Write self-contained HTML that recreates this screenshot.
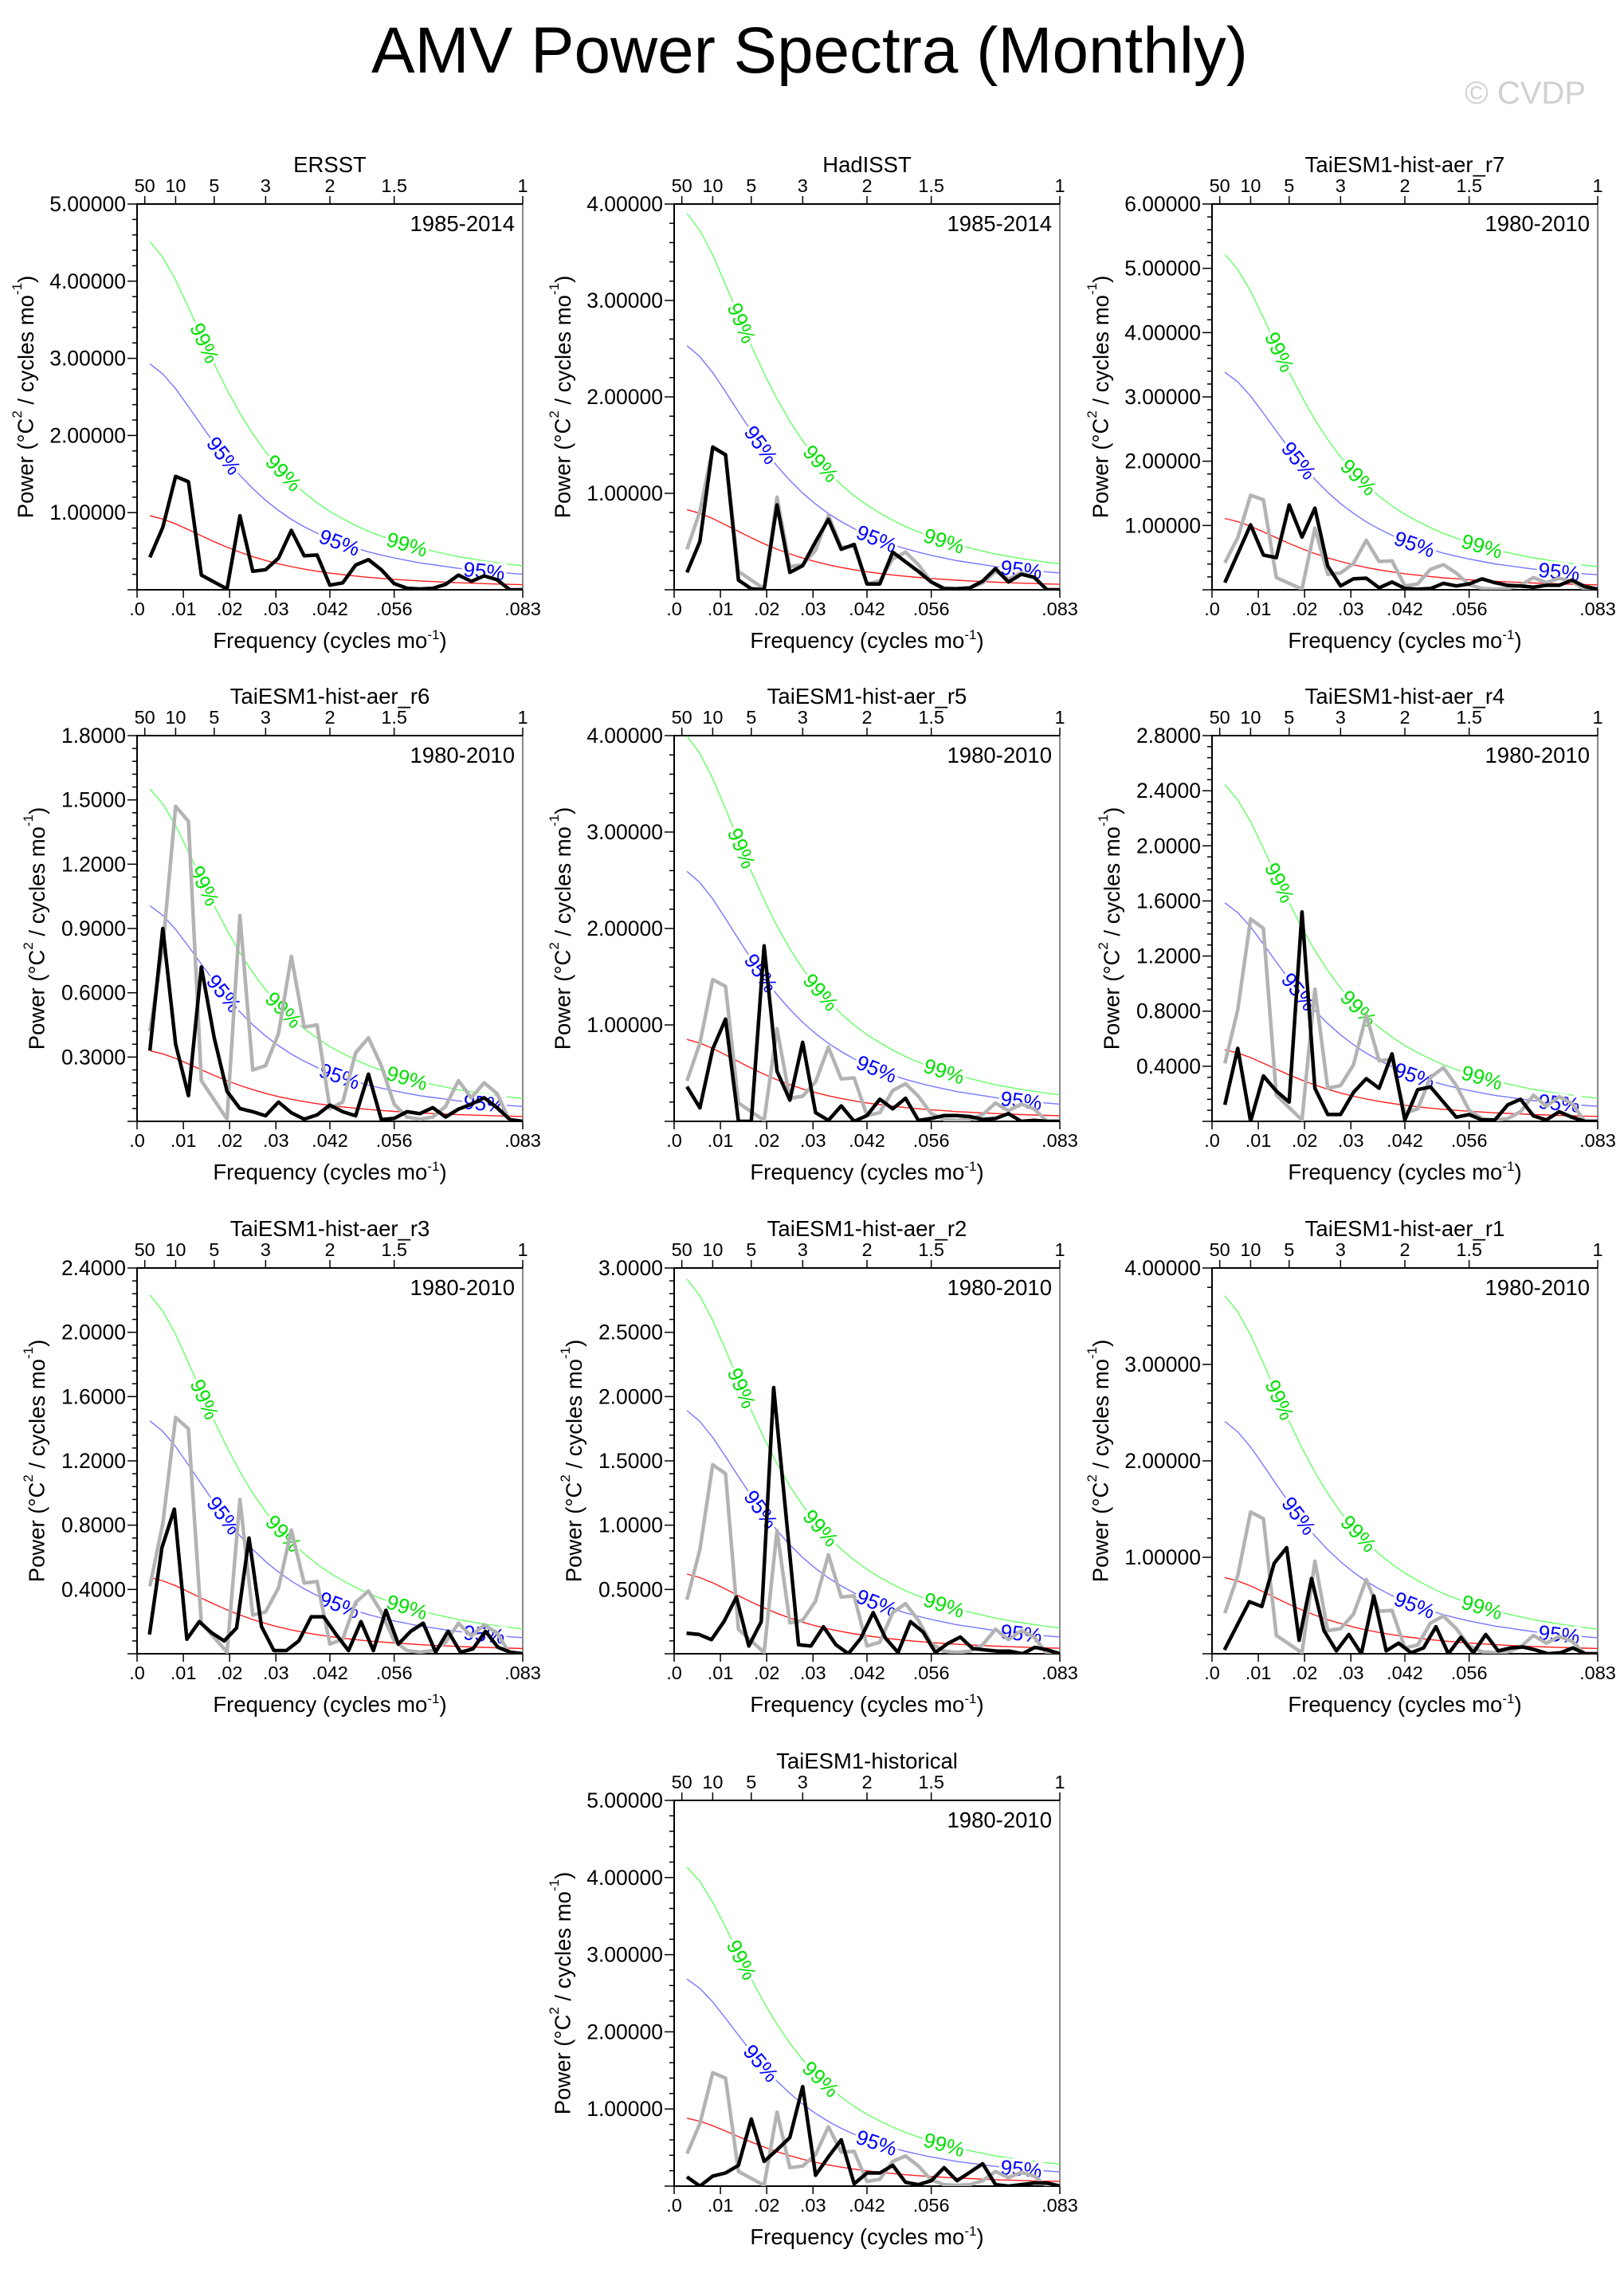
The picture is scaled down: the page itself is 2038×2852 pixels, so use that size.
<!DOCTYPE html>
<html><head><meta charset="utf-8">
<style>
html,body{margin:0;padding:0;background:#fff;}
svg{display:block;font-family:"Liberation Sans",Arial,sans-serif;}
</style></head>
<body>
<svg id="fig" xmlns="http://www.w3.org/2000/svg" width="2038" height="2852" viewBox="0 0 2038 2852">
<rect x="0" y="0" width="2038" height="2852" fill="#fff"/>
<text x="1016" y="91" font-size="82" text-anchor="middle" textLength="1100" lengthAdjust="spacingAndGlyphs">AMV Power Spectra (Monthly)</text>
<text x="1990" y="130" font-size="40" text-anchor="end" fill="#d0d0d0">© CVDP</text>
</svg>
<script>
// ---- data (power, °C^2 / cycles mo^-1) ----
const ersst   = [0.42,0.81,1.47,1.40,0.19,0.10,0.01,0.96,0.24,0.26,0.41,0.77,0.44,0.45,0.06,0.09,0.32,0.39,0.26,0.08,0.02,0.01,0.02,0.07,0.19,0.11,0.18,0.13,0.0,0.0];
const hadisst = [0.18,0.50,1.48,1.40,0.10,0.01,0.0,0.88,0.18,0.25,0.50,0.73,0.42,0.47,0.06,0.06,0.39,0.29,0.19,0.08,0.01,0.01,0.02,0.09,0.22,0.08,0.16,0.13,0.0,0.0];
const r7   = [0.11,0.56,1.01,0.54,0.50,1.32,0.82,1.27,0.37,0.06,0.17,0.18,0.03,0.12,0.02,0.01,0.02,0.10,0.06,0.09,0.17,0.11,0.07,0.06,0.04,0.07,0.07,0.15,0.05,0.01];
const r6   = [0.33,0.90,0.36,0.12,0.72,0.39,0.14,0.06,0.045,0.026,0.09,0.04,0.01,0.03,0.076,0.045,0.026,0.22,0.008,0.014,0.045,0.036,0.064,0.02,0.057,0.08,0.11,0.064,0.008,0.0];
const r5   = [0.36,0.14,0.75,1.06,0.0,0.0,1.82,0.52,0.22,0.82,0.09,0.01,0.16,0.0,0.06,0.23,0.13,0.24,0.01,0.03,0.06,0.06,0.05,0.02,0.03,0.08,0.0,0.01,0.0,0.0];
const r4   = [0.12,0.53,0.0,0.33,0.22,0.14,1.52,0.24,0.05,0.05,0.21,0.31,0.24,0.49,0.01,0.23,0.25,0.14,0.03,0.05,0.01,0.01,0.12,0.16,0.04,0.01,0.07,0.03,0.0,0.0];
const r3   = [0.12,0.66,0.90,0.09,0.20,0.13,0.08,0.16,0.72,0.17,0.02,0.02,0.08,0.23,0.23,0.12,0.02,0.20,0.02,0.27,0.06,0.14,0.19,0.01,0.14,0.01,0.03,0.14,0.04,0.01,0.0];
const r2   = [0.16,0.15,0.11,0.25,0.44,0.06,0.25,2.07,1.07,0.07,0.06,0.21,0.07,0.0,0.12,0.32,0.12,0.01,0.25,0.17,0.01,0.08,0.13,0.04,0.03,0.02,0.02,0.0,0.05,0.03,0.0];
const r1   = [0.04,0.29,0.54,0.49,0.94,1.10,0.14,0.78,0.24,0.03,0.20,0.0,0.60,0.03,0.11,0.01,0.06,0.28,0.0,0.17,0.01,0.20,0.03,0.06,0.07,0.04,0.0,0.01,0.06,0.0,0.0];
const hist = [0.12,0.0,0.13,0.17,0.27,0.87,0.32,0.47,0.63,1.29,0.14,0.38,0.60,0.03,0.17,0.17,0.27,0.05,0.02,0.07,0.24,0.07,0.18,0.29,0.02,0.0,0.02,0.04,0.04,0.0];
// normalized red-noise spectrum shape (30 harmonics)
const redShape = [1,0.955,0.890,0.811,0.729,0.649,0.575,0.507,0.448,0.396,0.351,0.312,0.279,0.250,0.225,0.204,0.185,0.168,0.154,0.141,0.130,0.119,0.111,0.103,0.095,0.089,0.083,0.078,0.073,0.069];
// red-noise level at lowest frequency, per panel
const redLevel = [0.96,0.83,1.11,0.33,0.85,0.52,0.475,0.62,0.79,0.88];
const sig95 = 3.05, sig99 = 4.7;
const panelNames = ["ERSST","HadISST","TaiESM1-hist-aer_r7","TaiESM1-hist-aer_r6","TaiESM1-hist-aer_r5","TaiESM1-hist-aer_r4","TaiESM1-hist-aer_r3","TaiESM1-hist-aer_r2","TaiESM1-hist-aer_r1","TaiESM1-historical"];
const panelYears = ["1985-2014","1985-2014","1980-2010","1980-2010","1980-2010","1980-2010","1980-2010","1980-2010","1980-2010","1980-2010"];
const yMax  = [5,4,6,1.8,4,2.8,2.4,3.0,4,5];
const yStep = [1,1,1,0.3,1,0.4,0.4,0.5,1,1];
const yDec  = [5,5,5,4,5,4,4,4,5,5];
const yMinorPer = [5,5,5,5,5,5,5,5,5,5];
const panelSeries = [ersst,hadisst,r7,r6,r5,r4,r3,r2,r1,hist];
const bottomTicks = [0,0.01,0.02,0.03,1/24,1/18,1/12];
const bottomLabels = [".0",".01",".02",".03",".042",".056",".083"];
const topPeriods = [50,10,5,3,2,1.5,1];
const topLabels = ["50","10","5","3","2","1.5","1"];
const g99Fracs = [0.175,0.38,0.70];
const b95Fracs = [0.225,0.525,0.90];

const NS="http://www.w3.org/2000/svg";
const svg=document.getElementById('fig');
const colL=[172,846,1521], rowT=[256,923,1591,2259], BOX=484, FMAX=1/12;
const cells=[[0,0],[1,0],[2,0],[0,1],[1,1],[2,1],[0,2],[1,2],[2,2],[1,3]];
function mk(tag,attrs,parent){const e=document.createElementNS(NS,tag);for(const k in attrs)e.setAttribute(k,attrs[k]);(parent||svg).appendChild(e);return e;}

cells.forEach((c,p)=>{
  const L=colL[c[0]], T=rowT[c[1]], B=T+BOX, R=L+BOX;
  const xs=f=>L+f/FMAX*BOX;
  const ys=v=>B-v/yMax[p]*BOX;
  const g=mk('g',{});
  
  
  const cp=mk('clipPath',{id:'clip'+p},g);
  mk('rect',{x:L,y:T,width:BOX,height:BOX},cp);
  const tt=mk('text',{x:(L+R)/2,y:T-40,'font-size':27.5,'text-anchor':'middle'},g);
  tt.textContent=panelNames[p];
  
  
  const yr=mk('text',{x:R-10,y:T+34,'font-size':27.5,'text-anchor':'end'},g);
  yr.textContent=panelYears[p];
  
  
  mk('line',{x1:R,y1:T,x2:R,y2:B,stroke:'#888','stroke-width':2},g);
  const fr=mk('path',{d:`M${R},${T}H${L}V${B}H${R}`,fill:'none',stroke:'#000','stroke-width':2},g);
  
  
  const nMaj=Math.round(yMax[p]/yStep[p]);
  const mstep=yStep[p]/yMinorPer[p];
  for(let i=0;i<=nMaj*yMinorPer[p];i++){
    const v=i*mstep, yy=ys(v), major=(i%yMinorPer[p]===0);
    mk('line',{x1:L-(major?12:6),y1:yy,x2:L,y2:yy,stroke:'#000','stroke-width':1.5},g);
  }
  const lblW = yDec[p]===5?95:81;
  for(let i=1;i<=nMaj;i++){
    const v=i*yStep[p];
    const t=mk('text',{x:L-14,y:ys(v)+9,'font-size':26.5,'text-anchor':'end'},g);
    t.textContent=v.toFixed(yDec[p]);
    
    
  }
  const yc=(T+B)/2, yx=L-45-lblW;
  const yt=mk('text',{x:yx,y:yc,'font-size':27.5,'text-anchor':'middle','dominant-baseline':'central',transform:`rotate(-90 ${yx} ${yc})`},g);
  yt.innerHTML='Power (°C<tspan font-size="17" dy="-11">2</tspan><tspan dy="11"> / cycles mo</tspan><tspan font-size="17" dy="-11">-1</tspan><tspan dy="11">)</tspan>';
  
  
  bottomTicks.forEach((f,i)=>{
    const xx=xs(f);
    mk('line',{x1:xx,y1:B,x2:xx,y2:B+10,stroke:'#000','stroke-width':1.5},g);
    const t=mk('text',{x:xx,y:B+32,'font-size':23.5,'text-anchor':'middle'},g);
    t.textContent=bottomLabels[i];
    
    
  });
  const xt=mk('text',{x:(L+R)/2,y:B+73,'font-size':27.5,'text-anchor':'middle'},g);
  xt.innerHTML='Frequency (cycles mo<tspan font-size="17" dy="-11">-1</tspan><tspan dy="11">)</tspan>';
  
  
  topPeriods.forEach((P,i)=>{
    const xx=xs(1/(12*P));
    mk('line',{x1:xx,y1:T-10,x2:xx,y2:T,stroke:'#000','stroke-width':1.5},g);
    const t=mk('text',{x:xx,y:T-15,'font-size':23.5,'text-anchor':'middle'},g);
    t.textContent=topLabels[i];
    
    
  });
  const pg=mk('g',{'clip-path':`url(#clip${p})`},g);
  const nR=redShape.length;
  function curvePts(mult){return redShape.map((s,k)=>[xs((k+1)/(12*nR)),ys(s*redLevel[p]*mult)]);}
  function pathD(pts){return pts.map((q,i)=>(i?'L':'M')+q[0].toFixed(1)+','+q[1].toFixed(1)).join('');}
  const curves=[[1,'#ff2020','red-noise-curve'],[sig95,'#7777ff','significance-95-curve'],[sig99,'#66ff66','significance-99-curve']];
  const curveP={};
  curves.forEach(cv=>{
    const pts=curvePts(cv[0]); curveP[cv[2]]=pts;
    const e=mk('path',{d:pathD(pts),fill:'none',stroke:cv[1],'stroke-width':1.4},pg);
    
    
  });
  function labelAt(pts,frac,txt,color,name){
    const xx=L+frac*BOX;
    let i=0; while(i<pts.length-2 && pts[i+1][0]<xx) i++;
    const a=pts[i], b=pts[i+1];
    const t=Math.max(0,Math.min(1,(xx-a[0])/(b[0]-a[0])));
    const yy=a[1]+t*(b[1]-a[1]);
    const ang=Math.atan2(b[1]-a[1],b[0]-a[0])*180/Math.PI;
    const e=mk('text',{x:xx,y:yy,'font-size':26,fill:color,stroke:'#fff','stroke-width':7,'paint-order':'stroke','text-anchor':'middle','dominant-baseline':'central',transform:`rotate(${ang.toFixed(1)} ${xx.toFixed(1)} ${yy.toFixed(1)})`},pg);
    e.textContent=txt;
    
    
  }
  g99Fracs.forEach(f=>labelAt(curveP['significance-99-curve'],f,'99%','#00e000','label-99'));
  b95Fracs.forEach(f=>labelAt(curveP['significance-95-curve'],f,'95%','#0000ff','label-95'));
  function seriesD(arr){const n=arr.length;return arr.map((v,k)=>(k?'L':'M')+xs((k+1)/(12*n)).toFixed(1)+','+ys(v).toFixed(1)).join('');}
  if(p>0){
    const gr=mk('path',{d:seriesD(ersst),fill:'none',stroke:'#b3b3b3','stroke-width':4.5,'stroke-linejoin':'round'},pg);
    
    
  }
  const bl=mk('path',{d:seriesD(panelSeries[p]),fill:'none',stroke:'#000','stroke-width':4.5,'stroke-linejoin':'round'},pg);
  
  
});
</script>
</body></html>
